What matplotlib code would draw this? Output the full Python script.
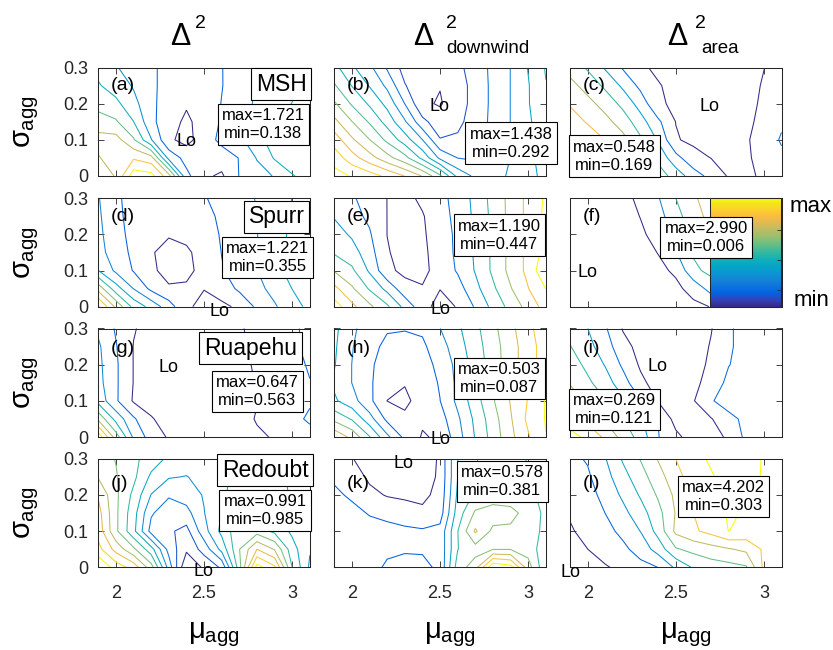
import numpy as np
import matplotlib
matplotlib.use("Agg")
import matplotlib.pyplot as plt
from matplotlib.colors import LinearSegmentedColormap, Normalize
from matplotlib.cm import ScalarMappable

plt.rcParams['font.family'] = ['Liberation Sans', 'DejaVu Sans']
plt.rcParams['mathtext.fontset'] = 'custom'
plt.rcParams['mathtext.rm'] = 'Liberation Sans'
plt.rcParams['mathtext.it'] = 'Liberation Sans'
plt.rcParams['mathtext.bf'] = 'Liberation Sans:bold'
plt.rcParams['mathtext.sf'] = 'Liberation Sans'

# ------------------------------------------------------------------ data
mu_agg = [1.9, 2.0, 2.1, 2.2, 2.3, 2.4, 2.5, 2.6, 2.7, 2.8, 2.9, 3.0, 3.1]
sigma_agg = [0.30, 0.25, 0.20, 0.15, 0.10, 0.05, 0.00]   # grid rows, top to bottom

volcanoes = ['MSH', 'Spurr', 'Ruapehu', 'Redoubt']
panel_letters = ['a', 'b', 'c', 'd', 'e', 'f', 'g', 'h', 'i', 'j', 'k', 'l']
z_max = [1.721, 1.438, 0.548, 1.221, 1.190, 2.990, 0.647, 0.503, 0.269, 0.991, 0.578, 4.202]
z_min = [0.138, 0.292, 0.169, 0.355, 0.447, 0.006, 0.563, 0.087, 0.121, 0.985, 0.381, 0.303]

# relative misfit on the (sigma, mu) grid: 0 = panel minimum, 1 = panel maximum
rel_a = [[.38, .30, .24, .20, .10, .08, .09, .16, .25, .31, .36, .40, .43],
         [.43, .36, .28, .20, .10, .07, .09, .16, .24, .30, .36, .40, .44],
         [.50, .45, .33, .20, .09, .05, .08, .17, .24, .31, .38, .42, .45],
         [.60, .56, .42, .20, .08, .02, .08, .18, .25, .33, .42, .46, .48],
         [.72, .72, .56, .30, .06, .00, .10, .20, .26, .38, .47, .50, .52],
         [.66, .74, .78, .72, .25, .12, .07, .10, .17, .30, .43, .48, .52],
         [.60, .68, 1.0, .97, .72, .20, .06, .02, .17, .24, .30, .41, .46]]
rel_b = [[.47, .37, .29, .17, .06, .03, .02, .07, .14, .20, .27, .36, .45],
         [.54, .44, .35, .25, .10, .03, .01, .05, .13, .20, .27, .35, .44],
         [.63, .52, .43, .33, .18, .02, .00, .05, .13, .20, .27, .35, .43],
         [.73, .62, .52, .41, .28, .12, .04, .07, .14, .20, .27, .34, .42],
         [.84, .72, .62, .51, .40, .27, .10, .11, .16, .21, .27, .34, .41],
         [.93, .83, .74, .65, .56, .42, .25, .18, .17, .21, .27, .33, .40],
         [1.0, .96, .92, .86, .79, .70, .55, .33, .25, .24, .28, .33, .38]]
rel_c = [[.56, .46, .33, .20, .10, .06, .04, .03, .02, .03, .05, .08, .12],
         [.65, .56, .45, .32, .18, .09, .05, .03, .01, .02, .05, .09, .14],
         [.73, .65, .56, .44, .29, .10, .06, .03, .00, .02, .05, .10, .17],
         [.80, .73, .65, .55, .40, .24, .08, .04, .02, .03, .06, .11, .19],
         [.88, .81, .74, .65, .50, .33, .09, .06, .04, .05, .07, .13, .23],
         [1.0, .90, .82, .74, .60, .44, .26, .12, .08, .06, .07, .11, .18],
         [.99, .96, .88, .80, .68, .55, .42, .28, .17, .07, .06, .10, .15]]
rel_d = [[.29, .19, .12, .10, .09, .09, .16, .20, .24, .29, .34, .40, .45],
         [.30, .20, .12, .09, .07, .08, .13, .19, .23, .28, .34, .41, .46],
         [.31, .21, .13, .08, .06, .07, .10, .18, .22, .28, .35, .42, .48],
         [.32, .23, .14, .06, .02, .04, .08, .17, .21, .28, .36, .43, .50],
         [.40, .26, .16, .08, .00, .03, .08, .16, .21, .28, .36, .44, .52],
         [.70, .45, .28, .14, .07, .065, .055, .10, .19, .25, .32, .40, .48],
         [1.0, .72, .48, .36, .22, .07, .02, .03, .07, .19, .27, .35, .43]]
rel_e = [[.30, .22, .16, .07, .03, .10, .17, .25, .38, .52, .65, .78, .90],
         [.33, .25, .18, .07, .02, .06, .16, .24, .37, .51, .65, .78, .91],
         [.40, .32, .22, .07, .00, .05, .15, .23, .36, .50, .65, .78, .92],
         [.46, .40, .26, .08, .03, .04, .14, .23, .36, .50, .65, .78, .93],
         [.60, .50, .32, .10, .04, .04, .12, .22, .35, .50, .65, .78, 1.0],
         [.78, .63, .46, .30, .12, .08, .075, .15, .30, .45, .60, .74, .88],
         [.95, .78, .64, .50, .30, .12, .02, .08, .22, .38, .52, .66, .80]]
rel_f = [[.03, .04, .06, .12, .20, .32, .50, .64, .76, .85, .92, .97, 1.0],
         [.02, .03, .05, .10, .17, .27, .44, .60, .72, .82, .90, .96, .99],
         [.01, .02, .04, .08, .14, .22, .38, .56, .68, .79, .88, .95, .98],
         [.01, .02, .03, .06, .11, .17, .32, .52, .62, .75, .85, .93, .97],
         [.00, .01, .03, .05, .08, .13, .19, .46, .55, .70, .82, .90, .95],
         [.01, .01, .02, .04, .06, .09, .13, .22, .40, .60, .75, .86, .92],
         [.01, .02, .02, .03, .04, .06, .09, .13, .17, .45, .65, .80, .88]]
rel_g = [[.30, .19, .09, .05, .03, .02, .01, .02, .07, .12, .16, .19, .22],
         [.34, .21, .08, .05, .03, .02, .01, .02, .06, .11, .16, .19, .22],
         [.35, .22, .08, .05, .03, .01, .00, .02, .05, .10, .15, .18, .21],
         [.36, .22, .08, .05, .03, .01, .00, .02, .04, .09, .14, .17, .20],
         [.40, .22, .07, .05, .03, .01, .00, .02, .04, .08, .13, .16, .19],
         [.65, .40, .22, .09, .05, .02, .01, .03, .05, .09, .13, .17, .22],
         [1.0, .62, .30, .15, .07, .04, .02, .03, .05, .07, .09, .12, .16]]
rel_h = [[.42, .30, .20, .16, .16, .17, .27, .37, .48, .60, .72, .84, .95],
         [.41, .28, .18, .13, .10, .13, .22, .34, .46, .58, .70, .82, .93],
         [.40, .27, .17, .10, .07, .11, .18, .31, .44, .57, .70, .82, .93],
         [.37, .27, .17, .07, .04, .10, .16, .30, .44, .58, .72, .84, .96],
         [.41, .32, .18, .03, .00, .09, .15, .30, .46, .62, .76, .88, 1.0],
         [.60, .50, .32, .12, .06, .05, .10, .25, .42, .58, .74, .90, 1.0],
         [.85, .72, .52, .30, .12, .02, .05, .22, .40, .56, .72, .86, .99]]
rel_i = [[.50, .40, .28, .12, .08, .06, .05, .06, .12, .25, .30, .32, .33],
         [.54, .44, .33, .17, .09, .06, .03, .05, .14, .25, .30, .32, .33],
         [.60, .50, .39, .24, .11, .06, .00, .06, .16, .26, .30, .32, .33],
         [.66, .56, .46, .32, .16, .07, .02, .08, .20, .29, .31, .31, .33],
         [.74, .64, .54, .42, .27, .12, .04, .12, .25, .33, .32, .31, .33],
         [.85, .76, .65, .54, .42, .26, .08, .06, .12, .22, .30, .31, .33],
         [1.0, .90, .78, .62, .48, .27, .16, .07, .10, .14, .30, .31, .33]]
rel_j = [[.62, .58, .52, .46, .40, .38, .38, .40, .42, .42, .42, .40, .40],
         [.66, .59, .52, .40, .34, .33, .36, .40, .44, .44, .43, .41, .40],
         [.74, .60, .48, .33, .26, .29, .34, .40, .46, .46, .44, .41, .40],
         [.78, .60, .45, .26, .20, .22, .33, .42, .50, .48, .45, .40, .38],
         [.80, .60, .44, .22, .18, .14, .30, .44, .56, .55, .48, .40, .36],
         [.86, .72, .60, .45, .22, .10, .20, .36, .58, .75, .66, .45, .34],
         [1.0, .88, .80, .62, .30, .00, .10, .18, .55, .95, .85, .50, .32]]
rel_k = [[.15, .10, .06, .04, .02, .00, .12, .40, .50, .52, .52, .50, .48],
         [.18, .14, .08, .06, .04, .03, .12, .40, .50, .52, .52, .50, .48],
         [.22, .18, .12, .09, .08, .07, .13, .42, .52, .54, .54, .52, .48],
         [.25, .23, .19, .16, .14, .12, .15, .45, .62, .66, .64, .56, .48],
         [.27, .26, .24, .24, .22, .21, .23, .50, .72, .58, .58, .58, .46],
         [.28, .27, .25, .22, .21, .21, .23, .50, .56, .60, .60, .56, .44],
         [.28, .27, .24, .18, .16, .17, .22, .55, .66, 1.0, .95, .65, .42]]
rel_l = [[.15, .19, .30, .45, .57, .70, .82, .92, .96, 1.0, .99, .94, .92],
         [.12, .16, .26, .39, .51, .64, .77, .89, .94, .98, .98, .94, .91],
         [.09, .13, .22, .33, .45, .58, .72, .85, .92, .97, .96, .93, .90],
         [.06, .10, .18, .27, .38, .52, .70, .82, .89, .96, .94, .91, .88],
         [.04, .08, .14, .21, .31, .48, .72, .80, .86, .95, .91, .88, .86],
         [.02, .05, .10, .15, .23, .36, .55, .60, .64, .68, .72, .84, .86],
         [.00, .02, .04, .08, .14, .18, .33, .45, .50, .52, .55, .85, .88]]
rel_grids = [rel_a, rel_b, rel_c, rel_d, rel_e, rel_f,
             rel_g, rel_h, rel_i, rel_j, rel_k, rel_l]

# annotation anchors (mu, sigma)
stat_pos = [(2.837, .142), (2.903, .091), (2.152, .055),
            (2.860, .136), (2.837, .198), (2.672, .191),
            (2.803, .126), (2.837, .162), (2.152, .076),
            (2.846, .157), (2.854, .237), (2.771, .196)]
name_pos = [(2.937, .254), (2.911, .249), (2.764, .245), (2.846, .268)]
lo_pos = [(2.402, .096), (2.497, .193), (2.694, .193),
          (2.590, -.014), (2.501, -.009), (1.998, .095),
          (2.301, .192), (2.501, -.008), (2.394, .194),
          (2.496, -.012), (2.292, .288), (1.900, -.013)]

# ------------------------------------------------------------------ style
parula_anchors = [(0.2081, 0.1663, 0.5292), (0.1959, 0.2645, 0.7279),
                  (0.0117, 0.3875, 0.8820), (0.0498, 0.4586, 0.8641),
                  (0.0793, 0.5200, 0.8312), (0.0343, 0.5966, 0.8199),
                  (0.0228, 0.6535, 0.7768), (0.0843, 0.6928, 0.7062),
                  (0.2178, 0.7250, 0.6193), (0.3953, 0.7459, 0.5244),
                  (0.5709, 0.7485, 0.4494), (0.7184, 0.7411, 0.3905),
                  (0.8507, 0.7299, 0.3360), (0.9739, 0.7314, 0.2666),
                  (0.9880, 0.8066, 0.1794), (0.9589, 0.8949, 0.1132),
                  (0.9763, 0.9831, 0.0538)]
anchor_idx = [0, 4, 8, 12, 16, 20, 24, 28, 32, 36, 40, 44, 48, 52, 56, 60, 63]
parula = LinearSegmentedColormap.from_list(
    'parula', [(i / 63.0, c) for i, c in zip(anchor_idx, parula_anchors)])

AX_COL = (0.15, 0.15, 0.15)
W, H = 833.0, 650.0
col_left = [98.3, 334.3, 570.0]
row_bottom = [176.0, 306.7, 437.0, 567.3]
ax_w, ax_h = 211.5, 108.5
letter_off = [18, 18.5, 20, 25]


def auto_levels(lo, hi, max_n=12):
    for e in range(-6, 4):
        for m in (1, 2, 5):
            step = m * 10.0 ** e
            k0 = int(np.floor(lo / step + 1e-9)) + 1
            k1 = int(np.ceil(hi / step - 1e-9)) - 1
            n = k1 - k0 + 1
            if 0 < n <= max_n:
                return np.arange(k0, k1 + 1) * step
    return np.linspace(lo, hi, 10)[1:-1]


fig = plt.figure(figsize=(W / 100, H / 100), dpi=100)
fig.patch.set_facecolor('white')

mu_arr = np.array(mu_agg)
sig_arr = np.array(sigma_agg)[::-1]

axes = []
for p in range(12):
    r, c = divmod(p, 3)
    ax = fig.add_axes([col_left[c] / W, 1 - row_bottom[r] / H, ax_w / W, ax_h / H])
    axes.append(ax)
    zmin, zmax = z_min[p], z_max[p]
    rel = np.array(rel_grids[p])[::-1]
    Z = zmin + rel * (zmax - zmin)
    lv = auto_levels(zmin, zmax)
    ax.contour(mu_arr, sig_arr, Z, levels=lv, cmap=parula, linewidths=0.75)
    ax.set_xlim(1.9, 3.1)
    ax.set_ylim(0, 0.3)
    ax.set_xticks([2, 2.5, 3])
    ax.set_yticks([0, 0.1, 0.2, 0.3])
    ax.tick_params(direction='in', top=True, right=True, length=4, width=0.6,
                   labelsize=13, colors=AX_COL, labelcolor=AX_COL)
    ax.tick_params(axis='x', pad=13)
    ax.tick_params(axis='y', pad=7)
    for s in ax.spines.values():
        s.set_color(AX_COL)
        s.set_linewidth(0.75)
    if r == 3:
        ax.set_xticklabels(['2', '2.5', '3'])
    else:
        ax.set_xticklabels([])
    if c == 0:
        ax.set_yticklabels(['0', '0.1', '0.2', '0.3'])
    else:
        ax.set_yticklabels([])
    ax.text(0.058, 1 - letter_off[r] / ax_h, '(%s)' % panel_letters[p],
            transform=ax.transAxes, fontsize=14, ha='left', va='center')

# colour bar inset in panel (f)
cax = fig.add_axes([710 / W, 1 - 306.7 / H, (col_left[2] + ax_w - 710) / W, ax_h / H])
cb = fig.colorbar(ScalarMappable(norm=Normalize(0, 1), cmap=parula), cax=cax)
cb.set_ticks([0.155, 0.43, 0.71])
cb.ax.tick_params(direction='in', labelright=False, length=3, width=0.6, colors=AX_COL)
cb.outline.set_linewidth(0.75)
cb.outline.set_edgecolor(AX_COL)
fig.text(790 / W, 1 - 207 / H, 'max', fontsize=16, ha='left', va='center')
fig.text(794 / W, 1 - 300 / H, 'min', fontsize=16, ha='left', va='center')

# boxes and labels (figure-level so they sit on top of everything)
for p, ax in enumerate(axes):
    x, y = stat_pos[p]
    fig.text(x, y, 'max=%.3f\nmin=%.3f' % (z_max[p], z_min[p]),
             transform=ax.transData, fontsize=12, ha='center', va='center',
             linespacing=1.25,
             bbox=dict(boxstyle='square,pad=0.25', fc='white', ec='black', lw=0.8))
    lx, ly = lo_pos[p]
    fig.text(lx, ly, 'Lo', transform=ax.transData, fontsize=13,
             ha='center', va='center')

for r, name in enumerate(volcanoes):
    ax = axes[3 * r]
    x, y = name_pos[r]
    fig.text(x, y, name, transform=ax.transData, fontsize=16.5,
             ha='center', va='center',
             bbox=dict(boxstyle='square,pad=0.2', fc='white', ec='black', lw=0.8))

# column titles
title_sub = ['', 'downwind', 'area']
delta_x = [170, 413, 667]
sup_x = [195, 446, 695]
sub_x = [195, 446, 701]
for c in range(3):
    fig.text(delta_x[c] / W, 1 - 45 / H, '\u0394', fontsize=22, ha='left', va='baseline')
    fig.text(sup_x[c] / W, 1 - 28 / H, '2', fontsize=14, ha='left', va='baseline')
    if title_sub[c]:
        fig.text(sub_x[c] / W, 1 - 53 / H, title_sub[c], fontsize=13.5,
                 ha='left', va='baseline')

# axis labels
for r in range(4):
    yc = row_bottom[r] - ax_h / 2
    fig.text(27 / W, 1 - yc / H, r'$\sigma_{\mathrm{agg}}$', fontsize=21,
             rotation=90, ha='center', va='center')
for c in range(3):
    xc = col_left[c] + ax_w / 2 + 10
    fig.text(xc / W, 1 - 635 / H, r'$\mu_{\mathrm{agg}}$', fontsize=21,
             ha='center', va='center')

fig.savefig('out.png', dpi=100, facecolor='white')
